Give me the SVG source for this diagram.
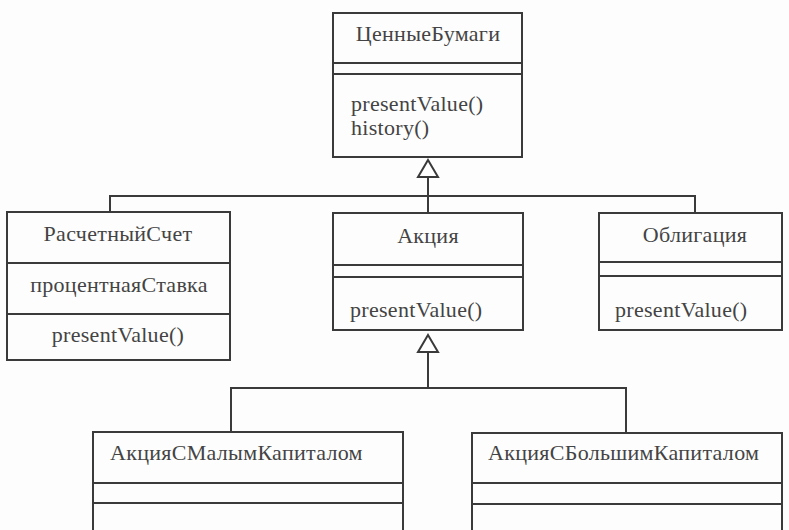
<svg xmlns="http://www.w3.org/2000/svg" width="789" height="530" viewBox="0 0 789 530">
<defs>
<style>
.box{fill:none;stroke:#3a3a3a;stroke-width:2}
.ln{fill:none;stroke:#3a3a3a;stroke-width:2}
.tri{fill:#fff;stroke:#3a3a3a;stroke-width:2;stroke-linejoin:miter}
.t{font-family:"Liberation Serif","DejaVu Serif",serif;font-size:22px;letter-spacing:0.3px;fill:#444}
.c{text-anchor:middle}
</style>
</defs>
<rect width="789" height="530" fill="#fdfdfd"/>
<g id="connectors">
<path class="ln" d="M428 177 V213"/>
<path class="ln" d="M110 212 V196 H695 V212"/>
<polygon class="tri" points="428,160 438,177 418,177"/>
<path class="ln" d="M428 352 V388"/>
<path class="ln" d="M231 432 V388 H626 V433"/>
<polygon class="tri" points="428,335 438,352 418,352"/>
</g>
<g id="node-cennyebumagi">
<rect class="box" x="333" y="13" width="189" height="144"/>
<line class="box" x1="333" y1="63" x2="522" y2="63"/>
<line class="box" x1="333" y1="74" x2="522" y2="74"/>
<text class="t c" x="428" y="41">ЦенныеБумаги</text>
<text class="t" x="351" y="111">presentValue()</text>
<text class="t" x="351" y="135">history()</text>
</g>
<g id="node-raschetnyschet">
<rect class="box" x="7" y="212" width="223" height="148"/>
<line class="box" x1="7" y1="263" x2="230" y2="263"/>
<line class="box" x1="7" y1="314" x2="230" y2="314"/>
<text class="t c" x="118" y="241">РасчетныйСчет</text>
<text class="t c" x="119" y="292">процентнаяСтавка</text>
<text class="t c" x="118" y="342">presentValue()</text>
</g>
<g id="node-akciya">
<rect class="box" x="333" y="213" width="190" height="117"/>
<line class="box" x1="333" y1="265" x2="523" y2="265"/>
<line class="box" x1="333" y1="277" x2="523" y2="277"/>
<text class="t c" x="428" y="243">Акция</text>
<text class="t" x="350" y="317">presentValue()</text>
</g>
<g id="node-obligaciya">
<rect class="box" x="599" y="213" width="183" height="117"/>
<line class="box" x1="599" y1="262" x2="782" y2="262"/>
<line class="box" x1="599" y1="276" x2="782" y2="276"/>
<text class="t c" x="695" y="242">Облигация</text>
<text class="t" x="615" y="317">presentValue()</text>
</g>
<g id="node-akciya-malym">
<path class="box" d="M93 531 V432 H403 V531"/>
<line class="box" x1="93" y1="483" x2="403" y2="483"/>
<line class="box" x1="93" y1="503" x2="403" y2="503"/>
<text class="t" x="110" y="460">АкцияСМалымКапиталом</text>
</g>
<g id="node-akciya-bolshim">
<path class="box" d="M472 531 V433 H782 V531"/>
<line class="box" x1="472" y1="483" x2="782" y2="483"/>
<line class="box" x1="472" y1="504" x2="782" y2="504"/>
<text class="t" x="488" y="460">АкцияСБольшимКапиталом</text>
</g>
</svg>
